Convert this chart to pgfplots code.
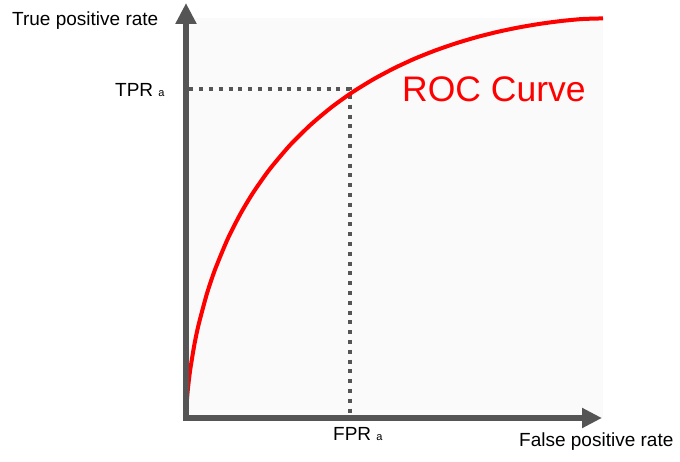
\documentclass[border=0pt]{standalone}
\usepackage{pgfplots}
\pgfplotsset{compat=1.18}
\usepackage{fontspec}
\setmainfont{Liberation Sans}
\usetikzlibrary{arrows.meta}
\definecolor{axgray}{HTML}{555555}
\definecolor{bggray}{HTML}{FAFAFA}
\definecolor{rocred}{HTML}{FF0000}
\begin{document}
\begin{tikzpicture}
\path[use as bounding box] (-186pt,-43pt) rectangle (494pt,418pt);
\begin{axis}[
  at={(0pt,0pt)}, anchor=south west,
  scale only axis, width=417pt, height=400pt,
  xmin=0, xmax=1, ymin=0, ymax=1,
  hide axis, clip=false,
]
\fill[bggray] (axis cs:0,0) rectangle (axis cs:1,1);
% dotted guide lines
\addplot[axgray, line width=4pt, dash pattern=on 4pt off 5.8pt]
  coordinates {(0.008,0.8225) (0.3933,0.8225) (0.3933,0)};
% ROC curve
\addplot[rocred, line width=4pt, smooth, tension=0.4] coordinates {
(0,0) (0.0001,0.0051) (0.0005,0.0161) (0.002,0.0420) (0.005,0.0769)
(0.01,0.1198) (0.02,0.1830) (0.03,0.2324) (0.05,0.3103) (0.07,0.3722)
(0.1,0.4477) (0.13,0.5094) (0.16,0.5618) (0.2,0.6211) (0.25,0.6828)
(0.3,0.7342) (0.35,0.7778) (0.4,0.8151) (0.45,0.8471) (0.5,0.8749)
(0.55,0.8990) (0.6,0.9197) (0.65,0.9376) (0.7,0.9530) (0.75,0.9660)
(0.8,0.9768) (0.85,0.9856) (0.9,0.9925) (0.95,0.9974) (1,0.9990)
};
% axes with arrows
\draw[axgray, line width=6pt, -{Triangle[length=21pt,width=20pt]}]
  (axis cs:0,-0.0075) -- (axis cs:0,1.0375);
\draw[axgray, line width=6pt, -{Triangle[length=20pt,width=19pt]}]
  (axis cs:-0.0072,0) -- (axis cs:0.9976,0);
\end{axis}
\node[anchor=base west, inner sep=0pt, font=\fontsize{19}{21}\selectfont] at (-174pt,392pt) {True positive rate};
\node[anchor=base west, inner sep=0pt, font=\fontsize{19}{21}\selectfont] at (-71pt,321pt) {TPR {\fontsize{11}{12}\selectfont a}};
\node[anchor=base west, inner sep=0pt, font=\fontsize{19}{21}\selectfont] at (147pt,-22pt) {FPR {\fontsize{11}{12}\selectfont a}};
\node[anchor=base west, inner sep=0pt, font=\fontsize{19}{21}\selectfont] at (333pt,-28pt) {False positive rate};
\node[anchor=base west, inner sep=0pt, text=rocred, font=\fontsize{35.5}{38}\selectfont] at (216pt,316pt) {ROC Curve};
\end{tikzpicture}
\end{document}
